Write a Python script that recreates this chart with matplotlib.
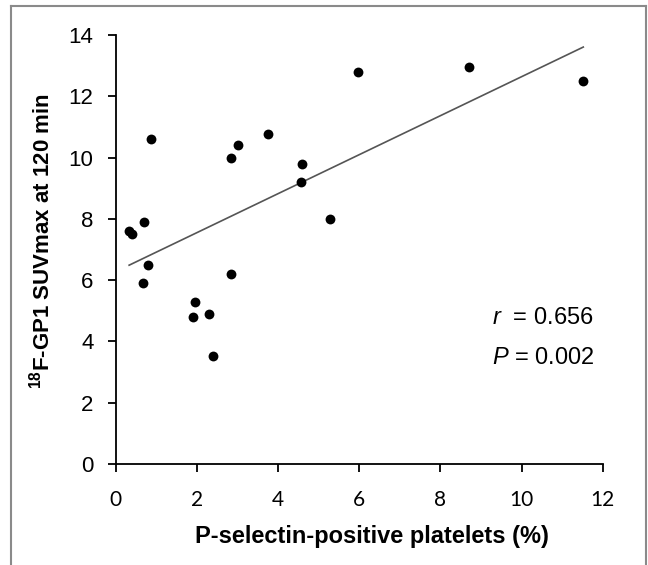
"""Scatter of 18F-GP1 uptake vs P-selectin-positive platelets with linear fit."""
import numpy as np
import matplotlib
matplotlib.use("Agg")
import matplotlib.pyplot as plt
from matplotlib.lines import Line2D

plt.rcParams.update({
    "font.family": "Liberation Sans",
    "mathtext.fontset": "custom",
    "mathtext.rm": "Liberation Sans",
    "mathtext.it": "Liberation Sans:italic",
    "mathtext.bf": "Liberation Sans:bold",
})

# P-selectin-positive platelets (%)
pselectin = [0.33, 0.39, 0.67, 0.70, 0.79, 0.86, 1.90, 1.95, 2.30, 2.40,
             2.83, 2.83, 3.02, 3.75, 4.59, 4.57, 5.29, 5.96, 8.71, 11.52]
# 18F-GP1 SUVmax at 120 min
suvmax = [7.60, 7.49, 5.92, 7.90, 6.49, 10.61, 4.80, 5.29, 4.91, 3.51,
          9.99, 6.19, 10.40, 10.77, 9.78, 9.21, 8.00, 12.80, 12.97, 12.49]

x_ticks = [0, 2, 4, 6, 8, 10, 12]
y_ticks = [0, 2, 4, 6, 8, 10, 12, 14]

x = np.array(pselectin)
y = np.array(suvmax)
slope, intercept = np.polyfit(x, y, 1)
xfit = np.array([x.min(), x.max()])

fig = plt.figure(figsize=(6.48, 5.65), dpi=100)
ax = fig.add_axes([0.1786, 0.1788, 0.7516, 0.7593])

ax.plot(xfit, slope * xfit + intercept, color="#555555", linewidth=1.2, zorder=2)
ax.scatter(x, y, s=50, color="black", zorder=3, linewidths=0)

ax.set_xlim(0, 12)
ax.set_ylim(0, 14)
ax.set_xticks(x_ticks)
ax.set_yticks(y_ticks)
ax.set_xticklabels([str(t) for t in x_ticks], fontfamily="Lato", fontsize=15)
ax.set_yticklabels([str(t) for t in y_ticks], fontsize=16)
ax.tick_params(axis="x", direction="out", length=6, width=1.3, pad=13)
ax.tick_params(axis="y", direction="out", length=6, width=1.3, pad=10)
for side in ["top", "right"]:
    ax.spines[side].set_visible(False)
for side in ["left", "bottom"]:
    ax.spines[side].set_linewidth(1.3)

ax.text(0.773, 0.340, "$r$  = 0.656", transform=ax.transAxes, fontsize=17,
        ha="left", va="center")
ax.text(0.773, 0.247, "$P$ = 0.002", transform=ax.transAxes, fontsize=17,
        ha="left", va="center")

fig.text(372 / 648, 1 - 537 / 565, "P-selectin-positive platelets (%)",
         fontsize=17, fontweight="bold", ha="center", va="center")
fig.text(42 / 648, 1 - 241 / 565, r"$^{\mathbf{18}}$F-GP1 SUVmax at 120 min",
         fontsize=16, fontweight="bold", rotation=90, ha="center", va="center")

# thin grey frame (left, top, right edges visible in the original)
frame_kw = dict(color="#8a8a8a", linewidth=1.5, transform=fig.transFigure)
fig.add_artist(Line2D([11 / 648, 11 / 648], [0, 1 - 6 / 565], **frame_kw))
fig.add_artist(Line2D([11 / 648, 646 / 648], [1 - 6 / 565, 1 - 6 / 565], **frame_kw))
fig.add_artist(Line2D([646 / 648, 646 / 648], [0, 1 - 6 / 565], **frame_kw))

fig.savefig("out.png", dpi=100)
